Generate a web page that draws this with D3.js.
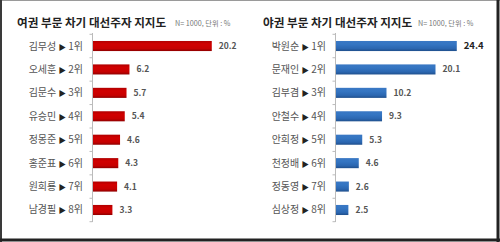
<!DOCTYPE html>
<html>
<head>
<meta charset="utf-8">
<script src="https://cdn.jsdelivr.net/npm/d3@7"></script>
<style>
  body { margin: 0; background: #fff; }
  svg { display: block; font-family: "Noto Sans CJK KR", "Noto Sans", sans-serif; }
</style>
</head>
<body>
<script>
// data
const leftNames = ["김무성", "오세훈", "김문수", "유승민", "정몽준", "홍준표", "원희룡", "남경필"];
const leftValues = [20.2, 6.2, 5.7, 5.4, 4.6, 4.3, 4.1, 3.3];
const rightNames = ["박원순", "문재인", "김부겸", "안철수", "안희정", "천정배", "정동영", "심상정"];
const rightValues = [24.4, 20.1, 10.2, 9.3, 5.3, 4.6, 2.6, 2.5];
const ranks = ["1위", "2위", "3위", "4위", "5위", "6위", "7위", "8위"];
const titles = ["여권 부문 차기 대선주자 지지도", "야권 부문 차기 대선주자 지지도"];
const subtitle = "N= 1000, 단위 : %";

const W = 500, H = 242;

const svg = d3.select("body")
  .append("svg")
  .attr("width", W)
  .attr("height", H);

const defs = svg.append("defs");
function grad(id, stops) {
  const g = defs.append("linearGradient").attr("id", id)
    .attr("x1", 0).attr("y1", 0).attr("x2", 0).attr("y2", 1);
  stops.forEach(s => g.append("stop").attr("offset", s[0]).attr("stop-color", s[1]));
}
grad("gRed", [[0, "#b00000"], [0.3, "#d10000"], [0.75, "#c60000"], [1, "#8e0000"]]);
grad("gBlue", [[0, "#3a78c4"], [0.35, "#3475c2"], [0.75, "#2b66b0"], [1, "#1f4f8c"]]);

// frame
svg.append("rect").attr("x", 0).attr("y", 0).attr("width", W).attr("height", H).attr("fill", "#fff");
svg.append("line").attr("x1", 0).attr("x2", W).attr("y1", 0.5).attr("y2", 0.5)
  .attr("stroke", "#9a9a9a").attr("stroke-width", 1);
svg.append("line").attr("x1", 1).attr("x2", 1).attr("y1", 0).attr("y2", H)
  .attr("stroke", "#3a3a3a").attr("stroke-width", 2);
svg.append("line").attr("x1", W - 2).attr("x2", W - 2).attr("y1", 0).attr("y2", H)
  .attr("stroke", "#222").attr("stroke-width", 3);
svg.append("line").attr("x1", 0).attr("x2", W).attr("y1", H - 2).attr("y2", H - 2)
  .attr("stroke", "#222").attr("stroke-width", 3);

const y = d3.scaleBand()
  .domain(d3.range(8))
  .range([34.3, 221.7])
  .paddingInner(0.57)
  .paddingOuter(0.285);

function panel(opt) {
  const g = svg.append("g");
  const x = d3.scaleLinear().domain([0, opt.max]).range([opt.x0, opt.x1]);

  // title
  g.append("text")
    .attr("x", opt.tx).attr("y", 27)
    .attr("font-size", "11.6px").attr("font-weight", "bold").attr("fill", "#222")
    .text(opt.title);
  g.append("text")
    .attr("x", opt.sx).attr("y", 26)
    .attr("font-size", "7.2px").attr("fill", "#777")
    .text(subtitle);

  // axis line with ticks at category boundaries
  const ax = g.append("g").attr("transform", `translate(${opt.x0 - 0.5},0)`);
  ax.append("line").attr("y1", 33).attr("y2", 222).attr("stroke", "#bbb");
  const step = y.step();
  ax.selectAll("tick").data(d3.range(9)).join("line")
    .attr("x1", -3).attr("x2", 0)
    .attr("y1", i => 34.3 + i * step).attr("y2", i => 34.3 + i * step)
    .attr("stroke", "#bbb");

  // bars
  g.selectAll("bar").data(opt.values).join("rect")
    .attr("x", x(0))
    .attr("y", (d, i) => y(i))
    .attr("width", d => x(d) - x(0))
    .attr("height", y.bandwidth())
    .attr("fill", opt.fill);

  // category labels
  const lab = g.selectAll("lab").data(opt.names).join("text")
    .attr("x", opt.x0 - 10)
    .attr("y", (d, i) => y(i) + y.bandwidth() / 2)
    .attr("dy", "0.35em")
    .attr("text-anchor", "end")
    .attr("font-size", "10px").attr("fill", "#555");
  lab.append("tspan").text(d => d + " ");
  lab.append("tspan").attr("font-size", "7.5px").attr("fill", "#222").text("▶");
  lab.append("tspan").text((d, i) => " " + ranks[i]);

  // value labels
  g.selectAll("val").data(opt.values).join("text")
    .attr("x", d => x(d) + 7)
    .attr("y", (d, i) => y(i) + y.bandwidth() / 2)
    .attr("dy", "0.35em")
    .attr("font-size", (d, i) => i === 0 && opt.boldFirst ? "9.5px" : "8.5px")
    .attr("font-weight", "bold")
    .attr("fill", (d, i) => i === 0 && opt.boldFirst ? "#222" : "#555")
    .text(d => d.toFixed(1));
}

panel({ names: leftNames, values: leftValues, title: titles[0], tx: 17, sx: 175,
        x0: 93, x1: 93 + 5.88 * 22, max: 22, fill: "url(#gRed)", boldFirst: false });
panel({ names: rightNames, values: rightValues, title: titles[1], tx: 263, sx: 418,
        x0: 336, x1: 336 + 4.95 * 26, max: 26, fill: "url(#gBlue)", boldFirst: true });
</script>
</body>
</html>
